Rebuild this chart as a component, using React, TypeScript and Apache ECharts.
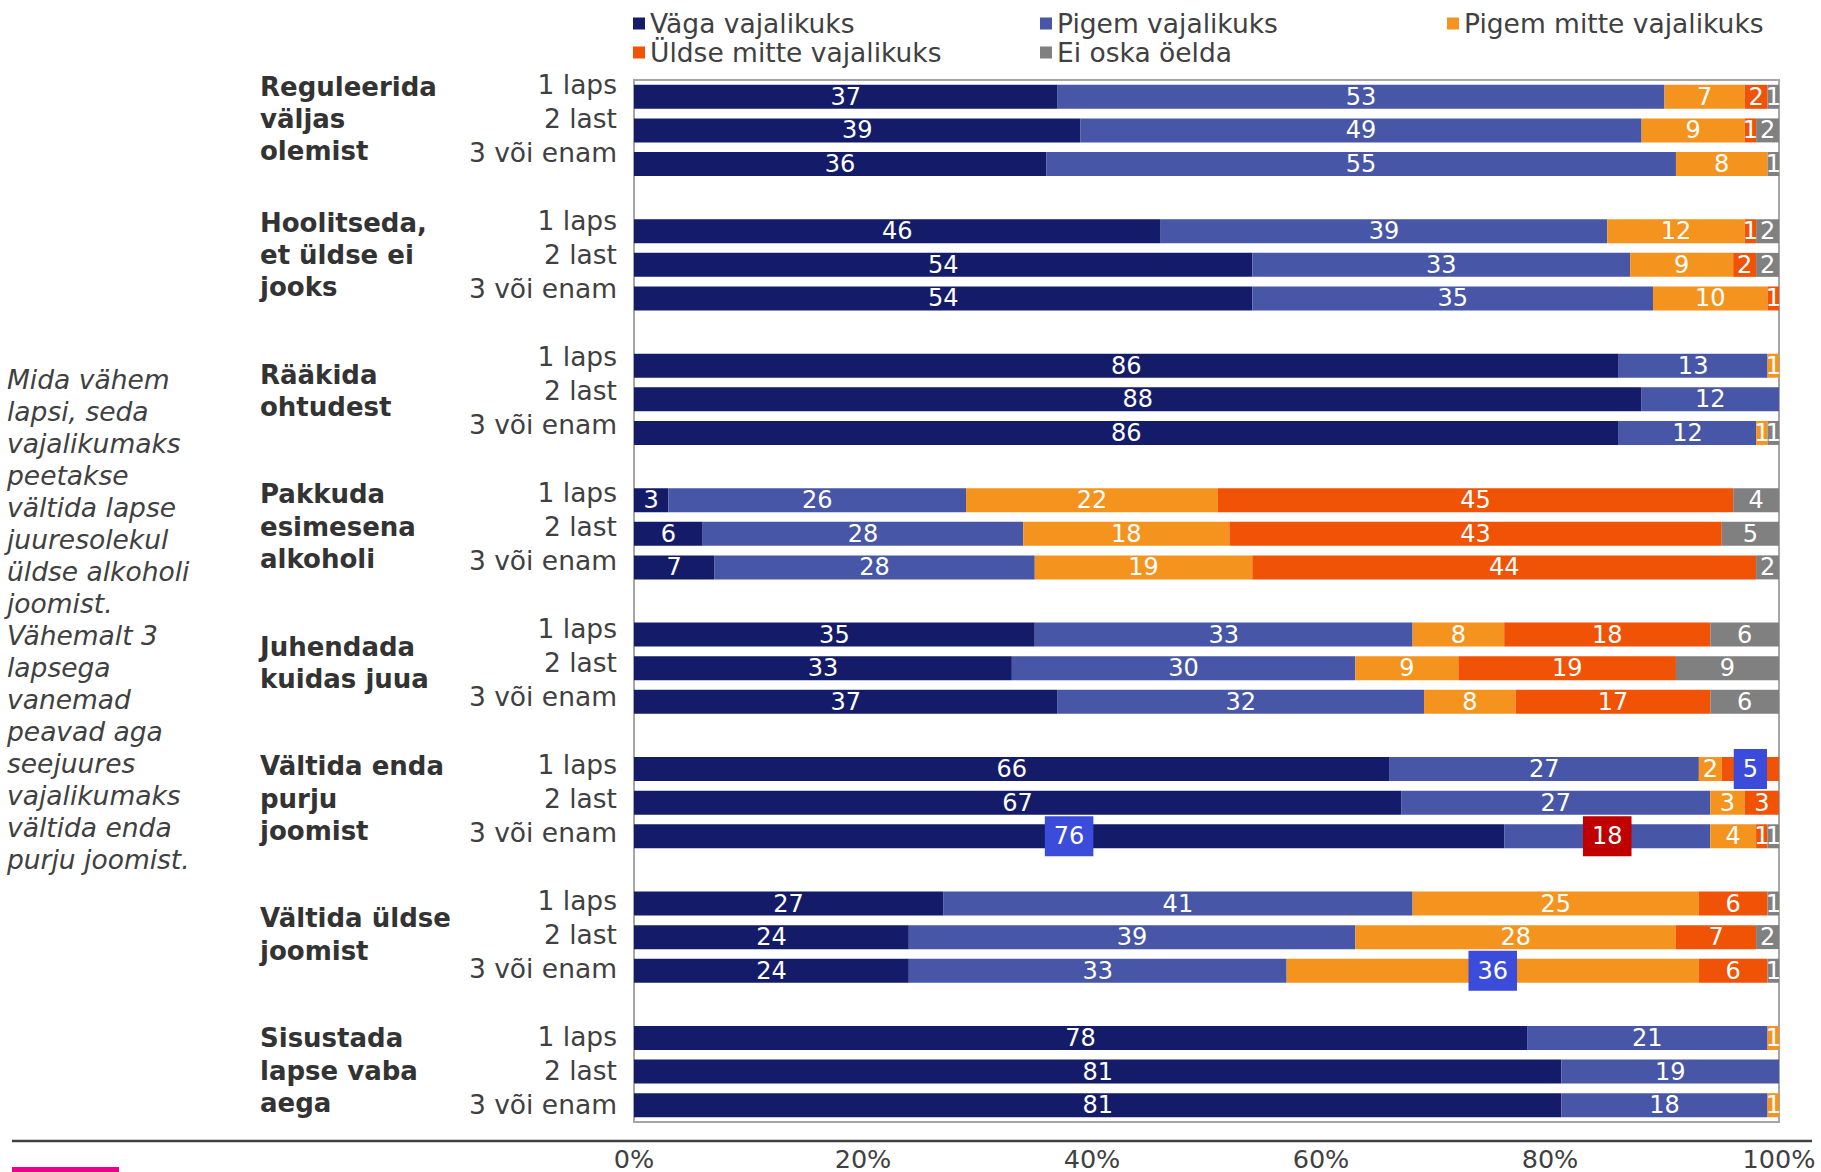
import React, { useEffect, useRef } from "react";
import * as echarts from "echarts";

const groupNames = [
  "Reguleerida\nväljas\nolemist",
  "Hoolitseda,\net üldse ei\njooks",
  "Rääkida\nohtudest",
  "Pakkuda\nesimesena\nalkoholi",
  "Juhendada\nkuidas juua",
  "Vältida enda\npurju\njoomist",
  "Vältida üldse\njoomist",
  "Sisustada\nlapse vaba\naega",
];
const rowLabels = ["1 laps", "2 last", "3 või enam"];

const seriesNames = [
  "Väga vajalikuks",
  "Pigem vajalikuks",
  "Pigem mitte vajalikuks",
  "Üldse mitte vajalikuks",
  "Ei oska öelda",
];
const seriesColors = ["#141C6A", "#4756A6", "#F5931F", "#F05206", "#808080"];

// values per row (8 groups x 3 rows: 1 laps, 2 last, 3 või enam)
const vagaVajalikuks = [37, 39, 36, 46, 54, 54, 86, 88, 86, 3, 6, 7, 35, 33, 37, 66, 67, 76, 27, 24, 24, 78, 81, 81];
const pigemVajalikuks = [53, 49, 55, 39, 33, 35, 13, 12, 12, 26, 28, 28, 33, 30, 32, 27, 27, 18, 41, 39, 33, 21, 19, 18];
const pigemMitteVajalikuks = [7, 9, 8, 12, 9, 10, 1, 0, 1, 22, 18, 19, 8, 9, 8, 2, 3, 4, 25, 28, 36, 1, 0, 1];
const uldseMitteVajalikuks = [2, 1, 0, 1, 2, 1, 0, 0, 0, 45, 43, 44, 18, 19, 17, 5, 3, 1, 6, 7, 6, 0, 0, 0];
const eiOskaOelda = [1, 2, 1, 2, 2, 0, 0, 0, 1, 4, 5, 2, 6, 9, 6, 0, 0, 1, 1, 2, 1, 0, 0, 0];

const xTicks = [0, 20, 40, 60, 80, 100];

// highlighted labels: [series index, row index, box colour]
const highlights: [number, number, string][] = [
  [3, 15, "#3B4CDB"],
  [0, 17, "#3B4CDB"],
  [1, 17, "#C00000"],
  [2, 20, "#3B4CDB"],
];

const noteText = [
  "Mida vähem",
  "lapsi, seda",
  "vajalikumaks",
  "peetakse",
  "vältida lapse",
  "juuresolekul",
  "üldse alkoholi",
  "joomist.",
  "Vähemalt 3",
  "lapsega",
  "vanemad",
  "peavad aga",
  "seejuures",
  "vajalikumaks",
  "vältida enda",
  "purju joomist.",
];

const FONT = "DejaVu Sans";

export default function App() {
  const ref = useRef<HTMLDivElement>(null);

  useEffect(() => {
    if (!ref.current) return;
    const chart = echarts.init(ref.current, null, { renderer: "svg" });

    const slots: ({ g: number; r: number } | null)[] = [];
    groupNames.forEach((_, g) => {
      for (let r = 0; r < 3; r++) slots.push({ g, r });
      if (g < groupNames.length - 1) slots.push(null);
    });
    const cats = slots.map((_, i) => "c" + i);
    const rowAxisLabels = slots.map((s) => (s ? rowLabels[s.r] : ""));
    const groupAxisLabels = slots.map((s) => (s && s.r === 1 ? groupNames[s.g] : ""));

    const allValues = [vagaVajalikuks, pigemVajalikuks, pigemMitteVajalikuks, uldseMitteVajalikuks, eiOskaOelda];

    const series = allValues.map((arr, si) => ({
      name: seriesNames[si],
      type: "bar",
      stack: "total",
      barWidth: 24,
      xAxisIndex: 0,
      yAxisIndex: 0,
      itemStyle: { color: seriesColors[si] },
      label: {
        show: true,
        position: "inside",
        color: "#ffffff",
        fontSize: 24,
        fontFamily: FONT,
        formatter: (p: any) => (p.value ? String(p.value) : ""),
      },
      data: slots.map((s) => {
        if (!s) return null;
        const idx = s.g * 3 + s.r;
        const v = arr[idx];
        const h = highlights.find((hh) => hh[0] === si && hh[1] === idx);
        if (h) {
          return {
            value: v,
            label: { backgroundColor: h[2], padding: [9, 9, 7, 9] },
          };
        }
        return v;
      }),
    }));

    const legendPos = [
      [633, 10],
      [1040, 10],
      [1447, 10],
      [633, 39],
      [1040, 39],
    ];

    chart.setOption({
      animation: false,
      color: seriesColors,
      legend: seriesNames.map((n, i) => ({
        data: [n],
        left: legendPos[i][0],
        top: legendPos[i][1],
        icon: "rect",
        itemWidth: 12,
        itemHeight: 12,
        padding: 0,
        selectedMode: false,
        textStyle: { fontSize: 26.5, color: "#404040", fontFamily: FONT },
      })),
      grid: [
        {
          left: 634,
          right: 42,
          top: 80,
          bottom: 49,
          show: true,
          borderColor: "#A6A6A6",
          borderWidth: 2,
          backgroundColor: "transparent",
        },
        {
          left: 634,
          right: 42,
          top: 68,
          bottom: 50.5,
          show: false,
        },
      ],
      xAxis: [
        {
          type: "value",
          gridIndex: 0,
          min: 0,
          max: 100,
          interval: 20,
          axisLine: { show: false },
          axisTick: { show: false },
          splitLine: { show: false },
          axisLabel: {
            margin: 24,
            fontSize: 25.5,
            color: "#404040",
            fontFamily: FONT,
            formatter: (v: number) => (xTicks.includes(v) ? v + "%" : ""),
          },
        },
        {
          type: "value",
          gridIndex: 1,
          min: 0,
          max: 100,
          show: false,
        },
      ],
      yAxis: [
        {
          type: "category",
          gridIndex: 0,
          inverse: true,
          data: cats,
          axisLine: { show: false },
          axisTick: { show: false },
          axisLabel: { show: false },
        },
        {
          type: "category",
          gridIndex: 1,
          inverse: true,
          data: cats,
          axisLine: { show: false },
          axisTick: { show: false },
          axisLabel: {
            interval: 0,
            margin: 17,
            fontSize: 26.5,
            verticalAlign: "middle",
            color: "#404040",
            fontFamily: FONT,
            formatter: (_: string, i: number) => rowAxisLabels[i],
          },
        },
        {
          type: "category",
          gridIndex: 1,
          inverse: true,
          position: "left",
          data: cats,
          axisLine: { show: false },
          axisTick: { show: false },
          axisLabel: {
            interval: 0,
            margin: 374,
            align: "left",
            verticalAlign: "middle",
            fontSize: 26,
            fontWeight: "bold",
            lineHeight: 32.3,
            color: "#333333",
            fontFamily: FONT,
            formatter: (_: string, i: number) => groupAxisLabels[i],
          },
        },
      ],
      series,
      graphic: [
        {
          type: "text",
          left: 7,
          top: 363,
          style: {
            text: noteText.join("\n"),
            fontSize: 26.5,
            lineHeight: 32,
            fontStyle: "italic",
            fontFamily: FONT,
            fill: "#404040",
          },
        },
        {
          type: "line",
          shape: { x1: 12, y1: 1141, x2: 1812, y2: 1141 },
          style: { stroke: "#404040", lineWidth: 2.5 },
        },
        {
          type: "rect",
          shape: { x: 12, y: 1167, width: 107, height: 10 },
          style: { fill: "#EC008C" },
        },
      ],
    });

    return () => chart.dispose();
  }, []);

  return (
    <div
      ref={ref}
      style={{ position: "fixed", left: 0, top: 0, width: 1821, height: 1172, background: "#ffffff" }}
    />
  );
}
